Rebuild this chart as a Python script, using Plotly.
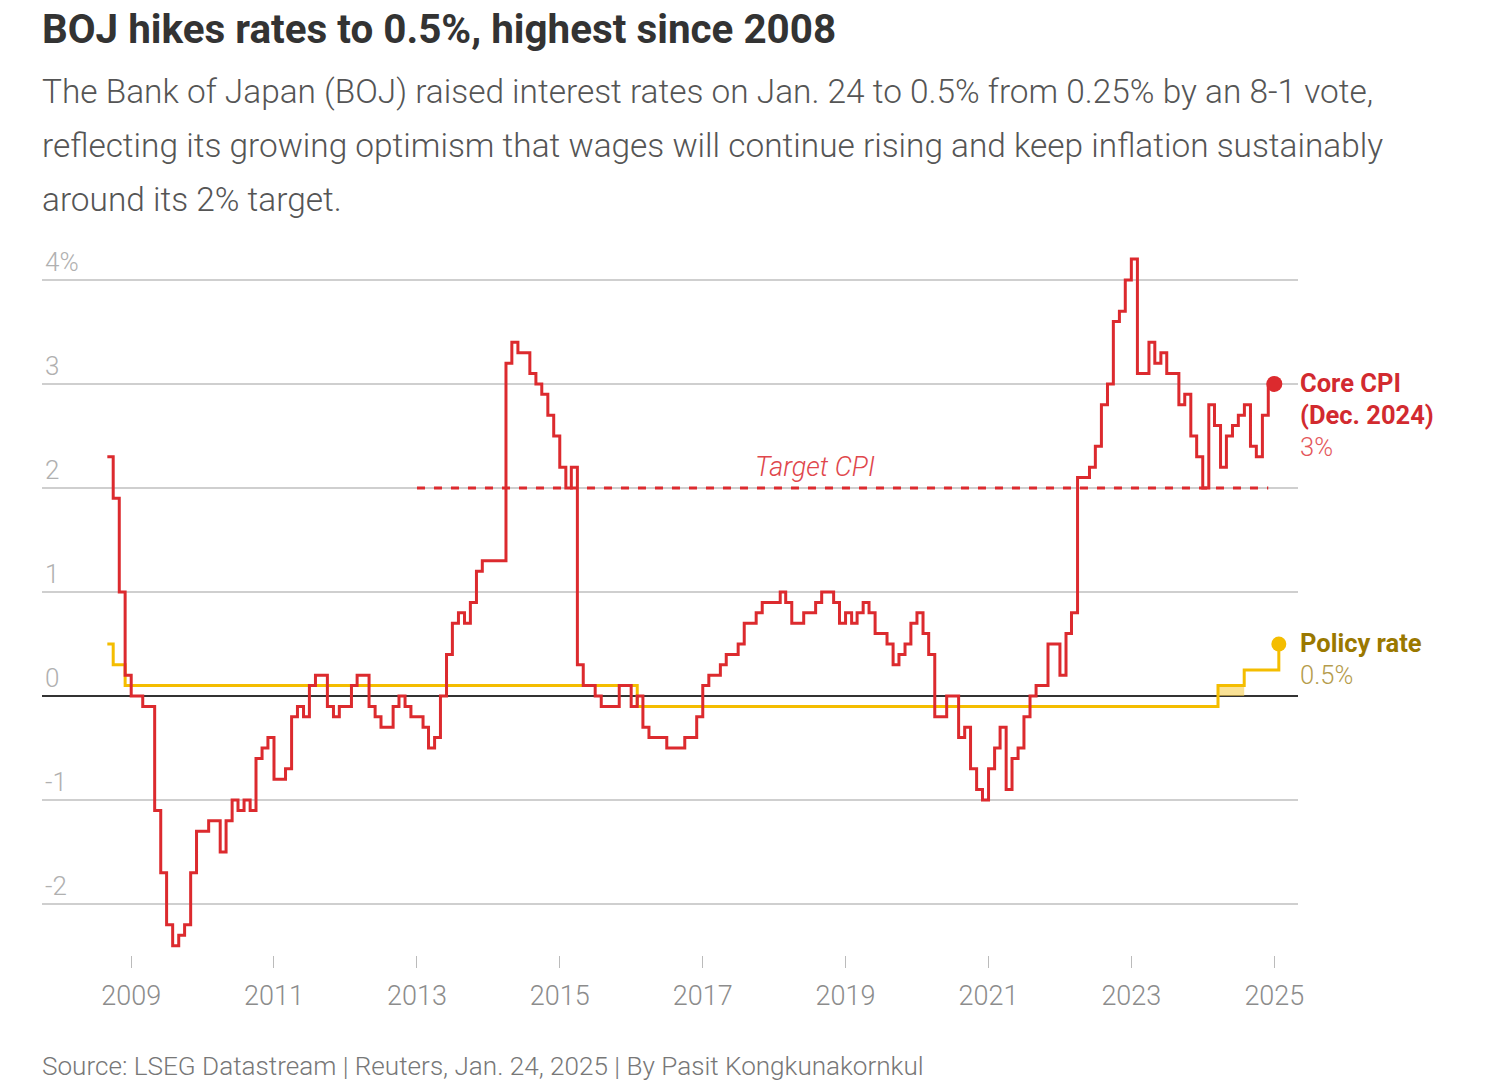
import plotly.graph_objects as go
import pandas as pd

# ---------------- data ----------------
cpi_start = "2008-09-01"
core_cpi = [
    2.3, 1.9, 1.0, 0.2,                                              # 2008 Sep-Dec
    0.0, 0.0, -0.1, -0.1, -1.1, -1.7, -2.2, -2.4, -2.3, -2.2, -1.7, -1.3,   # 2009
    -1.3, -1.2, -1.2, -1.5, -1.2, -1.0, -1.1, -1.0, -1.1, -0.6, -0.5, -0.4,  # 2010
    -0.8, -0.8, -0.7, -0.2, -0.1, -0.2, 0.1, 0.2, 0.2, -0.1, -0.2, -0.1,     # 2011
    -0.1, 0.1, 0.2, 0.2, -0.1, -0.2, -0.3, -0.3, -0.1, 0.0, -0.1, -0.2,      # 2012
    -0.2, -0.3, -0.5, -0.4, 0.0, 0.4, 0.7, 0.8, 0.7, 0.9, 1.2, 1.3,          # 2013
    1.3, 1.3, 1.3, 3.2, 3.4, 3.3, 3.3, 3.1, 3.0, 2.9, 2.7, 2.5,              # 2014
    2.2, 2.0, 2.2, 0.3, 0.1, 0.1, 0.0, -0.1, -0.1, -0.1, 0.1, 0.1,           # 2015
    -0.1, 0.0, -0.3, -0.4, -0.4, -0.4, -0.5, -0.5, -0.5, -0.4, -0.4, -0.2,   # 2016
    0.1, 0.2, 0.2, 0.3, 0.4, 0.4, 0.5, 0.7, 0.7, 0.8, 0.9, 0.9,              # 2017
    0.9, 1.0, 0.9, 0.7, 0.7, 0.8, 0.8, 0.9, 1.0, 1.0, 0.9, 0.7,              # 2018
    0.8, 0.7, 0.8, 0.9, 0.8, 0.6, 0.6, 0.5, 0.3, 0.4, 0.5, 0.7,              # 2019
    0.8, 0.6, 0.4, -0.2, -0.2, 0.0, 0.0, -0.4, -0.3, -0.7, -0.9, -1.0,       # 2020
    -0.7, -0.5, -0.3, -0.9, -0.6, -0.5, -0.2, 0.0, 0.1, 0.1, 0.5, 0.5,       # 2021
    0.2, 0.6, 0.8, 2.1, 2.1, 2.2, 2.4, 2.8, 3.0, 3.6, 3.7, 4.0,              # 2022
    4.2, 3.1, 3.1, 3.4, 3.2, 3.3, 3.1, 3.1, 2.8, 2.9, 2.5, 2.3,              # 2023
    2.0, 2.8, 2.6, 2.2, 2.5, 2.6, 2.7, 2.8, 2.4, 2.3, 2.7, 3.0,              # 2024
]

policy_dates = ["2008-09-01", "2008-10-01", "2008-12-01", "2016-02-01",
                "2024-03-19", "2024-07-31", "2025-01-24"]
policy_rate = [0.5, 0.3, 0.1, -0.1, 0.1, 0.25, 0.5]

band_dates = ["2024-03-19", "2024-07-31"]   # 0-0.1% policy range
band_low = 0.0
band_high = 0.1

target_cpi = 2.0
target_dates = ["2013-01-01", "2024-12-01"]
target_label_date = "2018-07-27"

y_ticks = [-2, -1, 0, 1, 2, 3, 4]
y_labels = ["-2", "-1", "0", "1", "2", "3", "4%"]
x_tick_years = [2009, 2011, 2013, 2015, 2017, 2019, 2021, 2023, 2025]

title = "BOJ hikes rates to 0.5%, highest since 2008"
subtitle_lines = [
    "The Bank of Japan (BOJ) raised interest rates on Jan. 24 to 0.5% from 0.25% by an 8-1 vote,",
    "reflecting its growing optimism that wages will continue rising and keep inflation sustainably",
    "around its 2% target.",
]
source = "Source: LSEG Datastream | Reuters, Jan. 24, 2025 | By Pasit Kongkunakornkul"

# ---------------- style ----------------
RED = "#dc2a2e"
YELLOW = "#f4bd00"
FONT = "Roboto"
W, H = 1490, 1090
ML, MR, MT, MB = 42, 192, 230, 135
PW, PH = W - ML - MR, H - MT - MB


def pxx(x):
    return (x - ML) / PW


def pxy(y):
    return (H - MB - y) / PH


cpi_dates = pd.date_range(cpi_start, periods=len(core_cpi) + 1, freq="MS")
cpi_y = core_cpi + [core_cpi[-1]]

fig = go.Figure()

# policy range band
fig.add_trace(go.Scatter(
    x=[band_dates[0], band_dates[1], band_dates[1], band_dates[0], band_dates[0]],
    y=[band_low, band_low, band_high, band_high, band_low],
    fill="toself", fillcolor="rgba(246,206,80,0.6)", mode="lines",
    line=dict(width=0), hoverinfo="skip"))

# policy rate
fig.add_trace(go.Scatter(
    x=policy_dates, y=policy_rate, mode="lines", line_shape="hv",
    line=dict(color=YELLOW, width=3)))
fig.add_trace(go.Scatter(
    x=[policy_dates[-1]], y=[policy_rate[-1]], mode="markers",
    marker=dict(color=YELLOW, size=15)))

# target CPI
fig.add_trace(go.Scatter(
    x=target_dates, y=[target_cpi, target_cpi], mode="lines",
    line=dict(color=RED, width=3, dash="8px,9px")))

# core CPI
fig.add_trace(go.Scatter(
    x=cpi_dates, y=cpi_y, mode="lines", line_shape="hv",
    line=dict(color=RED, width=3)))
fig.add_trace(go.Scatter(
    x=[cpi_dates[-1]], y=[cpi_y[-1]], mode="markers",
    marker=dict(color=RED, size=16)))

annotations = []
annotations.append(dict(
    text="<b>" + title + "</b>", x=pxx(40), y=pxy(30), xref="paper", yref="paper",
    xanchor="left", yanchor="middle", showarrow=False,
    font=dict(family=FONT, size=40.4, color="#333333")))
for i, line in enumerate(subtitle_lines):
    annotations.append(dict(
        text=line, x=pxx(40), y=pxy(91 + 54 * i), xref="paper", yref="paper",
        xanchor="left", yanchor="middle", showarrow=False,
        font=dict(family=FONT, size=33.4, color="#555555", weight=300)))
annotations.append(dict(
    text=source, x=pxx(40), y=pxy(1066), xref="paper", yref="paper",
    xanchor="left", yanchor="middle", showarrow=False,
    font=dict(family=FONT, size=26.1, color="#777777", weight=300)))

# series labels
annotations += [
    dict(text="<b>Core CPI</b>", x=1, xref="paper", y=pxy(383), yref="paper",
         xanchor="left", yanchor="middle", showarrow=False,
         font=dict(family=FONT, size=25.5, color="#d22a2f")),
    dict(text="<b>(Dec. 2024)</b>", x=1, xref="paper", y=pxy(415), yref="paper",
         xanchor="left", yanchor="middle", showarrow=False,
         font=dict(family=FONT, size=25.5, color="#d22a2f")),
    dict(text=f"{core_cpi[-1]:g}%", x=1, xref="paper", y=pxy(447), yref="paper",
         xanchor="left", yanchor="middle", showarrow=False,
         font=dict(family=FONT, size=25.5, color="#e4575b", weight=300)),
    dict(text="<b>Policy rate</b>", x=1, xref="paper", y=pxy(643), yref="paper",
         xanchor="left", yanchor="middle", showarrow=False,
         font=dict(family=FONT, size=25.5, color="#9a7800")),
    dict(text=f"{policy_rate[-1]:g}%", x=1, xref="paper", y=pxy(675), yref="paper",
         xanchor="left", yanchor="middle", showarrow=False,
         font=dict(family=FONT, size=25.5, color="#b59c4c", weight=300)),
    dict(text="<i>Target CPI</i>", x=target_label_date, xref="x", y=pxy(467), yref="paper",
         xanchor="center", yanchor="middle", showarrow=False,
         font=dict(family=FONT, size=27, color="#e0474c", weight=300)),
]

fig.update_layout(
    width=W, height=H,
    margin=dict(l=ML, r=MR, t=MT, b=MB),
    paper_bgcolor="white", plot_bgcolor="white",
    showlegend=False,
    annotations=annotations,
    xaxis=dict(
        type="date", range=["2007-10-03", "2025-05-02"],
        tickvals=[f"{y}-01-01" for y in x_tick_years],
        ticktext=[str(y) for y in x_tick_years],
        showgrid=False, zeroline=False, showline=False,
        ticks="outside", ticklen=12, tickwidth=1, tickcolor="#bbbbbb",
        ticklabelstandoff=5,
        tickfont=dict(family=FONT, size=27, color="#8c8c8c", weight=300),
    ),
    yaxis=dict(
        range=[-2.49, 4.48],
        tickvals=y_ticks, ticktext=y_labels,
        ticklabelposition="inside top",
        showgrid=True, gridcolor="#cfcfcf", gridwidth=1.5,
        zeroline=True, zerolinecolor="#333333", zerolinewidth=1.5,
        showline=False, ticks="",
        tickfont=dict(family=FONT, size=26, color="#b0b0b0", weight=300),
    ),
)

fig.write_html("out.html", config={"displayModeBar": False},
               post_script="document.body.style.margin='0';")
